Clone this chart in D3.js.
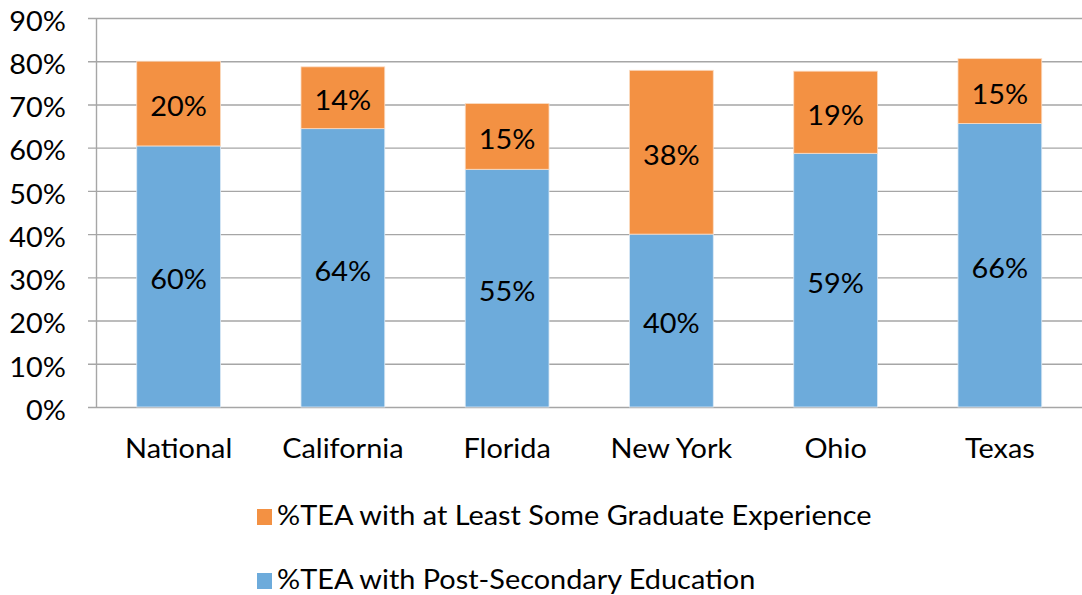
<!DOCTYPE html>
<html>
<head>
<meta charset="utf-8">
<script src="https://cdn.jsdelivr.net/npm/d3@7"></script>
<style>
  html, body { margin: 0; padding: 0; background: #fff; }
  svg { display: block; font-family: Lato, "Open Sans", sans-serif; }
</style>
</head>
<body>
<svg id="chart" width="1082" height="595"></svg>
<script>
// Share of TEA by education level, per region
const categories = ["National", "California", "Florida", "New York", "Ohio", "Texas"];
const postSecondary = [60.4, 64.4, 55.0, 40.0, 58.7, 65.6];
const graduate = [19.6, 14.3, 15.2, 37.9, 19.0, 15.0];
const yTicks = [0, 10, 20, 30, 40, 50, 60, 70, 80, 90];
const seriesNames = [
  "%TEA with at Least Some Graduate Experience",
  "%TEA with Post-Secondary Education"
];
const colors = { post: "#6DABDB", grad: "#F39143" };

const svg = d3.select("#chart");
const margin = { left: 96.5, right: 0, top: 18 };
const W = 1082;
const FONT = 27;     // label size
const STRETCH = 1.07; // slightly wide lettering

const x = d3.scaleBand()
  .domain(categories)
  .range([margin.left, W - margin.right])
  .paddingInner(0.49)
  .paddingOuter(0.245);

const y = d3.scaleLinear()
  .domain([0, 90])
  .range([407, margin.top]);

const fmt = v => d3.format(".0f")(v) + "%";

// places a text label at (px, py) with a light horizontal stretch
function label(parent, px, py, str, anchor, dy) {
  parent.append("g")
    .attr("transform", `translate(${px},${py}) scale(${STRETCH},1)`)
    .append("text")
    .attr("text-anchor", anchor)
    .attr("dy", dy)
    .attr("font-size", FONT)
    .attr("fill", "#000")
    .text(str);
}

// horizontal gridlines with short tick stubs left of the axis
const grid = svg.append("g")
  .attr("transform", `translate(${margin.left},0)`)
  .call(d3.axisLeft(y).tickValues(yTicks).tickSize(-(W - margin.left)).tickFormat(""));
grid.select(".domain").remove();
grid.selectAll(".tick line")
  .attr("x1", -8.5)
  .attr("stroke", "#a6a6a6")
  .attr("stroke-width", 1.4);

// y tick labels
const yLab = svg.append("g");
yTicks.forEach(t => label(yLab, 66, y(t) + 3, t + "%", "end", "0.36em"));

// stacked bars
const rows = categories.map((c, i) => ({ c, post: postSecondary[i], grad: graduate[i] }));

const bars = svg.append("g");
bars.selectAll("rect.post")
  .data(rows)
  .join("rect")
  .attr("class", "post")
  .attr("x", d => x(d.c))
  .attr("width", x.bandwidth())
  .attr("y", d => y(d.post))
  .attr("height", d => y(0) - y(d.post))
  .attr("fill", colors.post)
  .attr("stroke", "#dbe9f5")
  .attr("stroke-width", 0.8);

bars.selectAll("rect.grad")
  .data(rows)
  .join("rect")
  .attr("class", "grad")
  .attr("x", d => x(d.c))
  .attr("width", x.bandwidth())
  .attr("y", d => y(d.post + d.grad))
  .attr("height", d => y(d.post) - y(d.post + d.grad))
  .attr("fill", colors.grad)
  .attr("stroke", "#fbdcc3")
  .attr("stroke-width", 0.8);

// y axis line
svg.append("line")
  .attr("x1", margin.left).attr("x2", margin.left)
  .attr("y1", y(90)).attr("y2", y(0))
  .attr("stroke", "#a6a6a6")
  .attr("stroke-width", 1.4);

// value labels, centred in each segment
const vLab = svg.append("g");
rows.forEach(d => {
  const cx = x(d.c) + x.bandwidth() / 2;
  label(vLab, cx, (y(0) + y(d.post)) / 2 + 3, fmt(d.post), "middle", "0.36em");
  label(vLab, cx, (y(d.post) + y(d.post + d.grad)) / 2 + 3, fmt(d.grad), "middle", "0.36em");
});

// category labels
const cLab = svg.append("g");
categories.forEach(c => label(cLab, x(c) + x.bandwidth() / 2, 457.5, c, "middle", 0));

// legend
const legendItems = [
  { name: seriesNames[0], color: colors.grad, y: 509 },
  { name: seriesNames[1], color: colors.post, y: 573 }
];
const lg = svg.append("g");
legendItems.forEach(d => {
  lg.append("rect")
    .attr("x", 257)
    .attr("y", d.y)
    .attr("width", 15)
    .attr("height", 16)
    .attr("fill", d.color);
  label(lg, 277, d.y + 16, d.name, "start", 0);
});
</script>
</body>
</html>
